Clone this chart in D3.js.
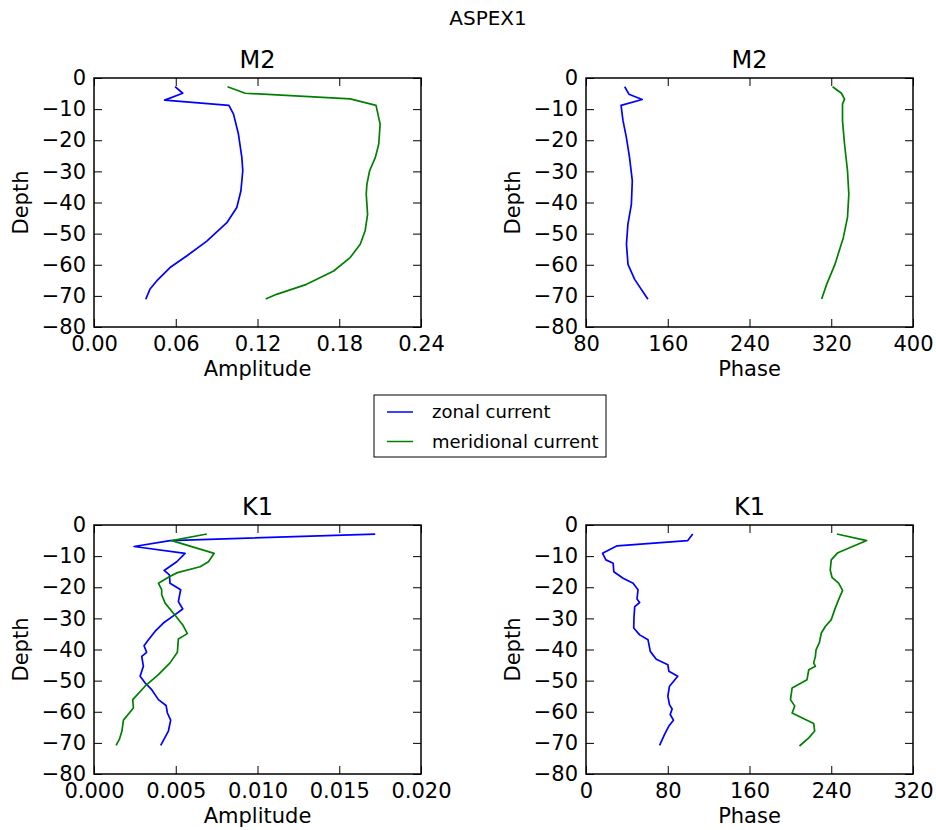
<!DOCTYPE html>
<html>
<head>
<meta charset="utf-8">
<script src="https://cdn.jsdelivr.net/npm/d3@7"></script>
<style>
  body { margin: 0; background: #fff; }
  text { font-family: "DejaVu Sans", sans-serif; fill: #000; }
</style>
</head>
<body>
<script>
// tick labels
const depthTicks = [0, -10, -20, -30, -40, -50, -60, -70, -80];
const m2AmpTicks = [0, 0.06, 0.12, 0.18, 0.24];
const m2PhaseTicks = [80, 160, 240, 320, 400];
const k1AmpTicks = [0, 0.005, 0.010, 0.015, 0.020];
const k1PhaseTicks = [0, 80, 160, 240, 320];

// M2 amplitude
const m2AmpZonalDepth = [-2.8, -4.9, -7.1, -8.8, -11.6, -18, -25.5, -29.8, -36.3, -41.6, -46.5, -52.4, -57.2, -60.9, -65.2, -67.9, -71.1];
const m2AmpZonal = [0.0595, 0.0651, 0.0519, 0.099, 0.1024, 0.106, 0.1085, 0.1092, 0.1078, 0.1048, 0.0975, 0.0828, 0.068, 0.0558, 0.046, 0.041, 0.038];
const m2AmpMeridDepth = [-2.8, -4.9, -6.7, -8.8, -14.8, -21.2, -25.5, -29.8, -34.1, -37.3, -43.8, -49.1, -53.4, -57.7, -62, -66.3, -69.5, -71];
const m2AmpMerid = [0.098, 0.111, 0.188, 0.207, 0.210, 0.209, 0.2065, 0.2023, 0.2003, 0.1998, 0.2008, 0.199, 0.1954, 0.188, 0.1759, 0.156, 0.134, 0.126];

// M2 phase
const m2PhaseZonalDepth = [-2.8, -5.2, -6.9, -8.8, -13.7, -19.1, -25.5, -33, -40.6, -47, -53.4, -59.9, -64.7, -71.1];
const m2PhaseZonal = [117.9, 122, 135, 114.3, 116.2, 119.5, 122.6, 125.3, 124.4, 121, 119.6, 121.1, 127.6, 140.6];
const m2PhaseMeridDepth = [-2.8, -4.9, -6.8, -8.4, -13.7, -21.2, -29.8, -37.3, -44.8, -51.3, -59.9, -66.3, -71];
const m2PhaseMerid = [321.3, 330, 333, 331, 331, 333, 335.9, 337.2, 335.9, 331.8, 323.6, 315.5, 310.6];

// K1 amplitude
const k1AmpZonalDepth = [-2.9, -5.0, -6.9, -9.1, -11.8, -14.6, -16.0, -18.7, -20.8, -24.6, -27.0, -28.8, -31.5, -34.2, -36.9, -38.8, -40.9, -42.2, -45.4, -48.6, -50.7, -52.9, -56.1, -58.0, -60.4, -62.7, -66.2, -70.8];
const k1AmpZonal = [0.0172, 0.00465, 0.00245, 0.00557, 0.00506, 0.00429, 0.00461, 0.00465, 0.0053, 0.00516, 0.00543, 0.00496, 0.00424, 0.00373, 0.00333, 0.00306, 0.00322, 0.00292, 0.00302, 0.00282, 0.00312, 0.00353, 0.00394, 0.00441, 0.00449, 0.00469, 0.00455, 0.00408];
const k1AmpMeridDepth = [-2.9, -5.0, -9.1, -11.8, -13.4, -15.3, -16.8, -18.7, -20.8, -22.4, -25.1, -29.4, -32.1, -34.9, -36.6, -40.9, -44.3, -48.1, -51.8, -56.1, -58.8, -62.7, -66.2, -68.9, -70.8];
const k1AmpMerid = [0.0069, 0.00476, 0.00735, 0.007, 0.00649, 0.0051, 0.00455, 0.00394, 0.00414, 0.00414, 0.00435, 0.00502, 0.00543, 0.00571, 0.00516, 0.0051, 0.00465, 0.00394, 0.00312, 0.00237, 0.00241, 0.0018, 0.00171, 0.00155, 0.00135];

// K1 phase
const k1PhaseZonalDepth = [-2.9, -5.0, -6.7, -9.1, -11.2, -12.3, -15.0, -17.1, -18.7, -20.8, -23.8, -24.9, -26.2, -29.4, -33.1, -35.3, -36.9, -40.6, -43.1, -44.9, -47.0, -48.6, -51.8, -55.0, -57.7, -59.1, -60.9, -62.7, -64.6, -67.3, -70.8];
const k1PhaseZonal = [104.4, 99.6, 30.5, 16.2, 19.5, 26.6, 27.2, 36.3, 46.1, 50.9, 49.9, 52.5, 47.7, 47.0, 46.7, 52.5, 60.7, 62.9, 68.8, 80.1, 81.1, 89.8, 81.7, 80.1, 81.7, 84.3, 82.4, 85.6, 81.1, 76.9, 72.0];
const k1PhaseMeridDepth = [-2.9, -5.0, -8.9, -11.2, -14.4, -16.8, -18.7, -21.0, -24.0, -26.7, -30.4, -32.6, -34.7, -37.9, -40.1, -42.2, -44.3, -45.4, -46.5, -49.7, -52.4, -56.1, -58.2, -60.4, -62.5, -63.8, -66.2, -68.4, -71.0];
const k1PhaseMerid = [245.5, 274.7, 246.5, 240.0, 239.0, 240.7, 247.2, 251.1, 247.2, 243.9, 240.0, 234.2, 230.3, 228.3, 225.1, 224.5, 222.8, 224.5, 218.0, 216.3, 201.7, 200.1, 204.3, 201.7, 214.7, 222.8, 223.8, 218.0, 208.9];

const seriesNames = ["zonal current", "meridional current"];
const seriesColors = ["#0000ff", "#008000"];

const W = 936, H = 830;
const svg = d3.select("body").append("svg").attr("width", W).attr("height", H);

svg.append("text")
  .attr("x", 488).attr("y", 25)
  .attr("text-anchor", "middle")
  .style("font-size", "20px")
  .text("ASPEX1");

const panels = [
  {left: 94, top: 78, title: "M2", xlabel: "Amplitude", domain: [0, 0.24], ticks: m2AmpTicks, fmt: d3.format(".2f"),
   series: [[m2AmpZonalDepth, m2AmpZonal], [m2AmpMeridDepth, m2AmpMerid]]},
  {left: 586, top: 78, title: "M2", xlabel: "Phase", domain: [80, 400], ticks: m2PhaseTicks, fmt: d3.format("d"),
   series: [[m2PhaseZonalDepth, m2PhaseZonal], [m2PhaseMeridDepth, m2PhaseMerid]]},
  {left: 94, top: 525, title: "K1", xlabel: "Amplitude", domain: [0, 0.02], ticks: k1AmpTicks, fmt: d3.format(".3f"),
   series: [[k1AmpZonalDepth, k1AmpZonal], [k1AmpMeridDepth, k1AmpMerid]]},
  {left: 586, top: 525, title: "K1", xlabel: "Phase", domain: [0, 320], ticks: k1PhaseTicks, fmt: d3.format("d"),
   series: [[k1PhaseZonalDepth, k1PhaseZonal], [k1PhaseMeridDepth, k1PhaseMerid]]}
];

const pw = 327, ph = 249;

panels.forEach(p => {
  const g = svg.append("g").attr("transform", `translate(${p.left},${p.top})`);
  const x = d3.scaleLinear().domain(p.domain).range([0, pw]);
  const y = d3.scaleLinear().domain([-80, 0]).range([ph, 0]);

  // lines
  p.series.forEach((s, i) => {
    const pts = s[0].map((d, k) => [s[1][k], d]);
    g.append("path")
      .datum(pts)
      .attr("fill", "none")
      .attr("stroke", seriesColors[i])
      .attr("stroke-width", 1.7)
      .attr("stroke-linejoin", "round")
      .attr("d", d3.line().x(d => x(d[0])).y(d => y(d[1])));
  });

  // axes, ticks pointing inward
  const bottom = g.append("g").attr("transform", `translate(0,${ph})`)
    .call(d3.axisBottom(x).tickValues(p.ticks).tickFormat(p.fmt).tickSizeInner(-8).tickSizeOuter(0).tickPadding(9));
  const left = g.append("g")
    .call(d3.axisLeft(y).tickValues(depthTicks).tickFormat(d3.format("d")).tickSizeInner(-8).tickSizeOuter(0).tickPadding(8));
  g.append("g").call(d3.axisTop(x).tickValues(p.ticks).tickFormat("").tickSizeInner(-8).tickSizeOuter(0));
  g.append("g").attr("transform", `translate(${pw},0)`)
    .call(d3.axisRight(y).tickValues(depthTicks).tickFormat("").tickSizeInner(-8).tickSizeOuter(0));

  g.selectAll(".domain").remove();
  g.selectAll(".tick line").attr("stroke", "#000").attr("stroke-width", 1);
  [bottom, left].forEach(a => a.selectAll("text")
    .style("font-size", "21px").style("font-family", "'DejaVu Sans', sans-serif").attr("fill", "#000"));

  g.append("rect")
    .attr("width", pw).attr("height", ph)
    .attr("fill", "none").attr("stroke", "#000").attr("stroke-width", 1.5);

  g.append("text")
    .attr("x", pw / 2).attr("y", -10)
    .attr("text-anchor", "middle")
    .style("font-size", "24px")
    .text(p.title);

  g.append("text")
    .attr("x", pw / 2).attr("y", ph + 49)
    .attr("text-anchor", "middle")
    .style("font-size", "21px")
    .text(p.xlabel);

  g.append("text")
    .attr("transform", `translate(-66,${ph / 2}) rotate(-90)`)
    .attr("text-anchor", "middle")
    .style("font-size", "21px")
    .text("Depth");
});

// legend
const lg = svg.append("g").attr("transform", "translate(374,395)");
lg.append("rect").attr("width", 232).attr("height", 62)
  .attr("fill", "#fff").attr("stroke", "#000").attr("stroke-width", 1);
seriesNames.forEach((name, i) => {
  const yy = 17 + i * 29.5;
  lg.append("line").attr("x1", 13).attr("x2", 39).attr("y1", yy).attr("y2", yy)
    .attr("stroke", seriesColors[i]).attr("stroke-width", 1.5);
  lg.append("text").attr("x", 58).attr("y", yy).attr("dy", "0.35em")
    .style("font-size", "18px").text(name);
});
</script>
</body>
</html>
